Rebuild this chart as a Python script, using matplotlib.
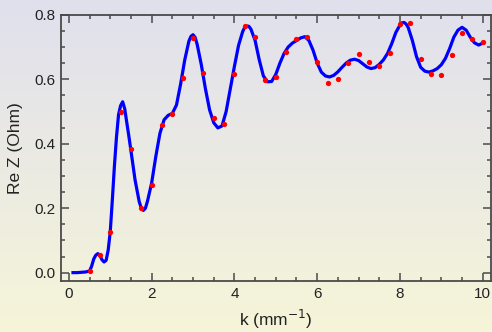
import numpy as np
import matplotlib
matplotlib.use("Agg")
import matplotlib.pyplot as plt
from matplotlib.colors import LinearSegmentedColormap
from matplotlib.ticker import MultipleLocator, FormatStrFormatter

# measured points (red dots)
k_pts = [0.5, 0.75, 1.0, 1.25, 1.5, 1.75, 2.0, 2.25, 2.5, 2.75, 3.0, 3.25, 3.5, 3.75,
         4.0, 4.25, 4.5, 4.75, 5.0, 5.25, 5.5, 5.75, 6.0, 6.25, 6.5, 6.75, 7.0, 7.25,
         7.5, 7.75, 8.0, 8.25, 8.5, 8.75, 9.0, 9.25, 9.5, 9.75, 10.0]
z_pts = [0.004, 0.054, 0.127, 0.498, 0.383, 0.200, 0.272, 0.457, 0.492, 0.603, 0.727,
         0.619, 0.479, 0.462, 0.615, 0.765, 0.732, 0.598, 0.608, 0.684, 0.726, 0.732,
         0.652, 0.587, 0.600, 0.649, 0.678, 0.652, 0.640, 0.680, 0.771, 0.773, 0.664,
         0.617, 0.614, 0.675, 0.742, 0.724, 0.714]

# fitted curve (blue) (denser around the sharp parts)
k_fit = [0.1, 0.2, 0.3, 0.4, 0.5, 0.55, 0.6, 0.65, 0.7, 0.75, 0.8, 0.85, 0.9, 0.95, 1.0,
         1.05, 1.1, 1.15, 1.2, 1.25, 1.3, 1.35, 1.4, 1.45, 1.5, 1.6, 1.7, 1.75, 1.8,
         1.85, 1.9, 2.0,
         2.1, 2.2, 2.3, 2.4, 2.5, 2.6, 2.7, 2.8, 2.9, 2.95, 3.0,
         3.05, 3.1, 3.2, 3.3, 3.4, 3.5, 3.6, 3.7, 3.8, 3.9, 4.0,
         4.1, 4.2, 4.25, 4.3, 4.35, 4.4, 4.5, 4.6, 4.7, 4.8, 4.9, 5.0,
         5.1, 5.2, 5.3, 5.4, 5.5, 5.6, 5.7, 5.8, 5.9, 6.0,
         6.1, 6.2, 6.3, 6.4, 6.5, 6.6, 6.7, 6.8, 6.9, 7.0,
         7.1, 7.2, 7.3, 7.4, 7.5, 7.6, 7.7, 7.8, 7.9, 8.0,
         8.05, 8.1, 8.15, 8.2, 8.3, 8.4, 8.5, 8.6, 8.7, 8.8, 8.9, 9.0,
         9.1, 9.2, 9.3, 9.4, 9.5, 9.6, 9.7, 9.8, 9.9, 10.0]
z_fit = [0.000, 0.000, 0.001, 0.002, 0.005, 0.020, 0.042, 0.054, 0.059, 0.053, 0.040,
         0.033, 0.038, 0.070, 0.127,
         0.225, 0.330, 0.420, 0.490, 0.518, 0.530, 0.508, 0.465, 0.423, 0.378, 0.287,
         0.220, 0.200, 0.193, 0.200, 0.222, 0.278,
         0.360, 0.432, 0.474, 0.488, 0.494, 0.520, 0.585, 0.660, 0.718, 0.733, 0.738,
         0.730, 0.708, 0.645, 0.570, 0.505, 0.465, 0.449, 0.455, 0.500, 0.570, 0.640,
         0.705, 0.748, 0.761, 0.765, 0.764, 0.755, 0.720, 0.660, 0.610, 0.592, 0.593,
         0.615,
         0.650, 0.680, 0.700, 0.712, 0.720, 0.728, 0.732, 0.720, 0.690, 0.650,
         0.622, 0.610, 0.607, 0.612, 0.623, 0.637, 0.650, 0.659, 0.662, 0.658,
         0.648, 0.638, 0.633, 0.636, 0.646, 0.660, 0.680, 0.710, 0.745, 0.768,
         0.775, 0.776, 0.771, 0.760, 0.720, 0.670, 0.637, 0.625, 0.622, 0.626, 0.633,
         0.645,
         0.665, 0.695, 0.730, 0.752, 0.761, 0.752, 0.730, 0.713, 0.706, 0.712]

plt.rcParams['font.family'] = ['Liberation Sans', 'DejaVu Sans']

fig = plt.figure(figsize=(4.92, 3.32), dpi=100)

# gradient background
bg = fig.add_axes([0, 0, 1, 1], zorder=-10)
cmap = LinearSegmentedColormap.from_list('bg', ['#e0e0ed', '#f6f5d8'])
bg.imshow(np.linspace(0, 1, 256).reshape(-1, 1), aspect='auto', cmap=cmap,
          extent=[0, 1, 0, 1])
bg.axis('off')

ax = fig.add_axes([0.124, 0.1536, 0.874, 0.802])
ax.set_facecolor('none')

ax.plot(k_fit, z_fit, color='#0000ff', lw=2.3, zorder=2, solid_joinstyle='round')
ax.plot(k_pts, z_pts, 'o', color='#ff0000', ms=3.8, mec='none', zorder=3)

ax.set_xlim(-0.19, 10.2)
ax.set_ylim(-0.026, 0.8)
ax.xaxis.set_major_locator(MultipleLocator(2))
ax.xaxis.set_minor_locator(MultipleLocator(0.5))
ax.yaxis.set_major_locator(MultipleLocator(0.2))
ax.yaxis.set_minor_locator(MultipleLocator(0.05))
ax.yaxis.set_major_formatter(FormatStrFormatter('%.1f'))

for s in ax.spines.values():
    s.set_color('#4a4a4a')
    s.set_linewidth(1.3)
ax.tick_params(which='both', direction='in', top=True, right=True,
               color='#4a4a4a', width=1.1, labelsize=11, labelcolor='#222222')
ax.tick_params(which='major', length=6, pad=4)
ax.tick_params(which='minor', length=3)

ax.set_xlabel('k (mm$^{-1}$)', fontsize=12.5, color='#222222', labelpad=5)
ax.set_ylabel('Re Z (Ohm)', fontsize=12.5, color='#222222', labelpad=8)

fig.savefig('out.png', dpi=100)
